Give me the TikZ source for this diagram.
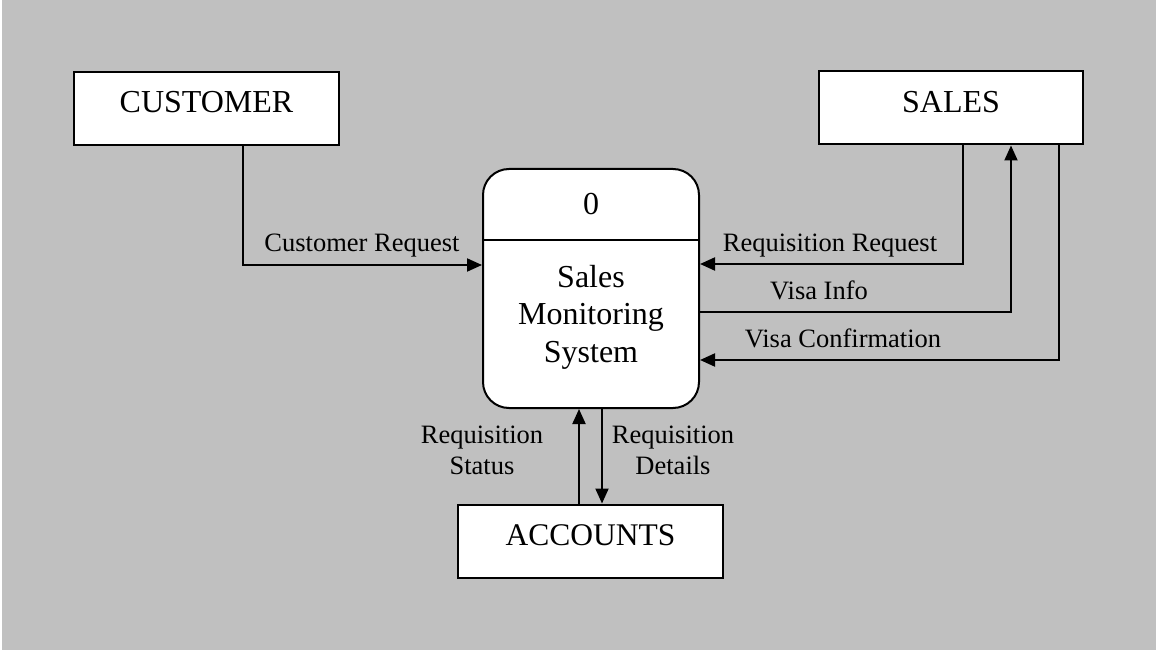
\documentclass[tikz,border=0pt]{standalone}
\usepackage{fontspec}
\setmainfont{Liberation Serif}
\usetikzlibrary{arrows.meta}
\definecolor{panel}{HTML}{C0C0C0}
\tikzset{
  entity/.style={draw=black, fill=white, line width=2pt, rectangle, minimum width=265pt, minimum height=73pt, inner sep=0pt},
  process/.style={draw=black, fill=white, line width=2pt, rectangle, rounded corners=26pt, minimum width=216pt, minimum height=239pt, inner sep=0pt},
  bigtext/.style={font=\fontsize{32}{37.5}\selectfont, inner sep=0pt, align=center},
  flowlabel/.style={font=\fontsize{26.5}{31}\selectfont, inner sep=0pt, align=center},
  flow/.style={line width=2pt, -{Triangle[length=15pt,width=13pt]}},
}
\begin{document}
\begin{tikzpicture}[x=1pt, y=-1pt]
  % page and grey panel
  \fill[white] (0,0) rectangle (1160,655);
  \fill[panel] (2,0) rectangle (1156,650);
  \useasboundingbox (0,0) rectangle (1160,655);

  % external entities
  \node[entity] (cust) at (206.5,108.5) {};
  \node[bigtext, anchor=base] (custlbl) at (206.5,113) {CUSTOMER};
  \node[entity, minimum width=264pt] (sales) at (951,108) {};
  \node[bigtext, anchor=base] (saleslbl) at (951,113) {SALES};
  \node[entity] (acc) at (590.5,541) {};
  \node[bigtext, font=\fontsize{31.5}{37}\selectfont, anchor=base] (acclbl) at (590.5,545) {ACCOUNTS};

  % process 0
  \node[process] (proc) at (591,288.5) {};
  \draw[line width=2pt] (proc.west |- 0,240) -- (proc.east |- 0,240);
  \node[bigtext, anchor=base] (procid) at (591,215) {0};
  \node[bigtext] (proctext) at (591,317) {Sales\\Monitoring\\System};

  % data flows
  \draw[flow] (cust.south -| 243,0) |- (proc.west |- 0,265);
  \draw[flow] (sales.south -| 963,0) |- (proc.east |- 0,264);
  \draw[flow] (proc.east |- 0,312) -| (sales.south -| 1011,0);
  \draw[flow] (sales.south -| 1059,0) |- (proc.east |- 0,360);
  \draw[flow] (acc.north -| 579,0) -- (proc.south -| 579,0);
  \draw[flow] (proc.south -| 602,0) -- (acc.north -| 602,0);

  % flow labels
  \node[flowlabel, anchor=base] (l1) at (362,252) {Customer Request};
  \node[flowlabel, anchor=base] (l2) at (830,252) {Requisition Request};
  \node[flowlabel, anchor=base] (l3) at (819,299) {Visa Info};
  \node[flowlabel, anchor=base] (l4) at (843,347) {Visa Confirmation};
  \node[flowlabel] (l5) at (482,450) {Requisition\\Status};
  \node[flowlabel] (l6) at (673,450) {Requisition\\Details};
\end{tikzpicture}
\end{document}
